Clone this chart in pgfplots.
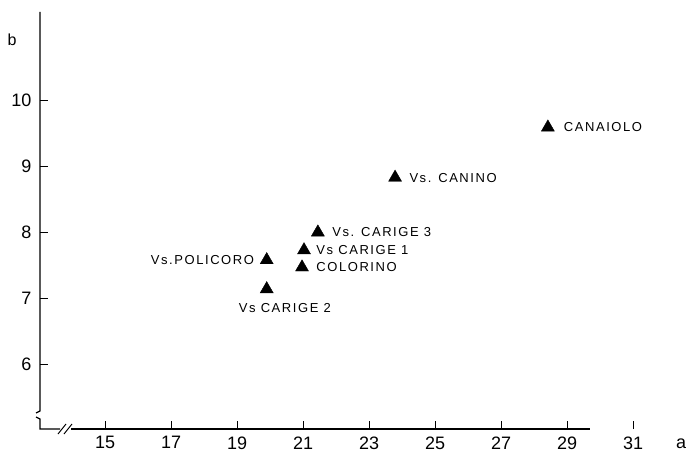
\documentclass[border=0pt]{standalone}
\usepackage{fontspec}
\setmainfont{Liberation Sans}
\usepackage{pgfplots}
\pgfplotsset{compat=1.18}
\begin{document}
\begin{tikzpicture}[x=1pt,y=1pt]
\path[use as bounding box] (-40,-23) rectangle (655,429);
\begin{axis}[
  at={(0,0)}, anchor=south west,
  x=33pt, y=66pt,
  xmin=13.03, xmax=32.0, ymin=5.02, ymax=11.34,
  axis x line*=bottom, axis y line*=left,
  axis line style={draw=none},
  xtick={15,17,...,31}, ytick={6,7,8,9,10},
  tick align=inside, major tick length=8pt,
  every tick/.style={black, line width=1pt},
  tick label style={font=\fontsize{18}{20}\selectfont},
  /pgf/number format/assume math mode=true,
  xticklabel style={yshift=-4pt},
  yticklabel style={xshift=-5pt},
  clip=false,
]
\addplot[only marks, mark=triangle*, mark size=7.5pt, black] coordinates {
  (28.42,9.59) (23.79,8.83) (21.45,8.00) (21.03,7.73)
  (20.97,7.47) (19.90,7.58) (19.90,7.14)
};
\begin{scope}[every node/.style={font=\fontsize{13}{15}\selectfont\addfontfeature{LetterSpace=12}}]
\node[anchor=west] at (axis cs:28.80,9.59) {CANAIOLO};
\node[anchor=west] at (axis cs:24.12,8.83) {Vs. CANINO};
\node[anchor=west] at (axis cs:21.78,8.00) {Vs. CARIGE 3};
\node[anchor=west] at (axis cs:21.30,7.73) {Vs CARIGE 1};
\node[anchor=west] at (axis cs:21.30,7.47) {COLORINO};
\node[anchor=east] at (axis cs:19.62,7.58) {Vs.POLICORO};
\node[anchor=north] at (axis cs:20.45,6.98) {Vs CARIGE 2};
\end{scope}
\end{axis}
% axis lines with breaks (picture coords: 1pt = 1px of reference)
\draw[line width=1.2pt] (0,417) -- (0,18) -- ++(-4,-2);
\draw[line width=1.2pt] (-4,12) -- (0,10) -- (0,0) -- (20,0);
\draw[line width=1.2pt] (31,0) -- (550,0);
\draw[line width=1pt] (18,-5) -- (26,5);
\draw[line width=1pt] (24,-5) -- (32,5);
\node[font=\fontsize{18}{20}\selectfont, anchor=base] at (641,-19) {a};
\node[font=\fontsize{16}{18}\selectfont] at (-28,389) {b};
\end{tikzpicture}
\end{document}
